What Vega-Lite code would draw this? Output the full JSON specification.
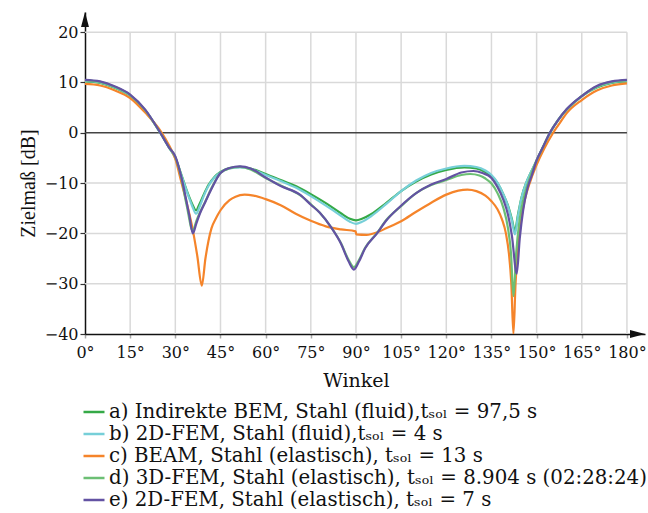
{
  "$schema": "https://vega.github.io/schema/vega-lite/v6.json",
  "width": 560,
  "height": 322,
  "autosize": "none",
  "padding": {"left": 85, "top": 12, "right": 3, "bottom": 179},
  "background": "white",
  "config": {"font": "DejaVu Serif", "view": {"stroke": null}},
  "datasets": {
    "gridx": [{"w": 15}, {"w": 30}, {"w": 45}, {"w": 60}, {"w": 75}, {"w": 90}, {"w": 105}, {"w": 120}, {"w": 135}, {"w": 150}, {"w": 165}, {"w": 180}],
    "gridy": [{"z": -30}, {"z": -20}, {"z": -10}, {"z": 10}, {"z": 20}],
    "arrows": [
      {"w": 0, "z": 24, "sh": "M0,0L-0.53,2L0.53,2Z"},
      {"w": 186, "z": -40, "sh": "M0,0L-2,-0.53L-2,0.53Z"}
    ],
    "curves": [
      {"s": "a", "w": 0, "z": 10.2}, {"s": "a", "w": 5, "z": 9.9}, {"s": "a", "w": 10, "z": 8.9}, {"s": "a", "w": 15, "z": 7.3}, {"s": "a", "w": 20, "z": 4.4}, {"s": "a", "w": 25, "z": 0}, {"s": "a", "w": 28, "z": -3}, {"s": "a", "w": 30, "z": -5}, {"s": "a", "w": 32, "z": -8.3}, {"s": "a", "w": 34, "z": -11.8}, {"s": "a", "w": 35.5, "z": -14}, {"s": "a", "w": 36.9, "z": -15.4}, {"s": "a", "w": 38, "z": -14.2}, {"s": "a", "w": 39.5, "z": -12.2}, {"s": "a", "w": 41, "z": -10.4}, {"s": "a", "w": 43, "z": -8.8}, {"s": "a", "w": 45, "z": -7.8}, {"s": "a", "w": 48, "z": -7}, {"s": "a", "w": 51.5, "z": -6.8}, {"s": "a", "w": 55, "z": -7.1}, {"s": "a", "w": 60, "z": -8.2}, {"s": "a", "w": 65, "z": -9.4}, {"s": "a", "w": 70, "z": -10.6}, {"s": "a", "w": 75, "z": -12.2}, {"s": "a", "w": 80, "z": -14}, {"s": "a", "w": 85, "z": -16}, {"s": "a", "w": 88, "z": -17.1}, {"s": "a", "w": 90, "z": -17.4}, {"s": "a", "w": 92, "z": -17.1}, {"s": "a", "w": 95, "z": -16.2}, {"s": "a", "w": 100, "z": -14}, {"s": "a", "w": 105, "z": -11.6}, {"s": "a", "w": 110, "z": -9.7}, {"s": "a", "w": 115, "z": -8.3}, {"s": "a", "w": 120, "z": -7.4}, {"s": "a", "w": 126, "z": -6.9}, {"s": "a", "w": 130, "z": -7.1}, {"s": "a", "w": 133, "z": -7.8}, {"s": "a", "w": 135, "z": -8.6}, {"s": "a", "w": 137, "z": -10}, {"s": "a", "w": 139, "z": -12.3}, {"s": "a", "w": 140.5, "z": -14.5}, {"s": "a", "w": 141.8, "z": -17.2}, {"s": "a", "w": 142.8, "z": -19.5}, {"s": "a", "w": 143.8, "z": -16.3}, {"s": "a", "w": 145, "z": -12.8}, {"s": "a", "w": 146.5, "z": -10}, {"s": "a", "w": 148, "z": -8}, {"s": "a", "w": 150, "z": -5.5}, {"s": "a", "w": 152, "z": -3}, {"s": "a", "w": 154.5, "z": 0}, {"s": "a", "w": 157, "z": 2.4}, {"s": "a", "w": 160, "z": 4.6}, {"s": "a", "w": 165, "z": 7.3}, {"s": "a", "w": 170, "z": 9}, {"s": "a", "w": 175, "z": 9.9}, {"s": "a", "w": 180, "z": 10.2},

      {"s": "b", "w": 0, "z": 10.3}, {"s": "b", "w": 5, "z": 10}, {"s": "b", "w": 10, "z": 9}, {"s": "b", "w": 15, "z": 7.4}, {"s": "b", "w": 20, "z": 4.5}, {"s": "b", "w": 25, "z": 0}, {"s": "b", "w": 28, "z": -3}, {"s": "b", "w": 30, "z": -5}, {"s": "b", "w": 32, "z": -8.4}, {"s": "b", "w": 34, "z": -12}, {"s": "b", "w": 35.5, "z": -14.4}, {"s": "b", "w": 36.9, "z": -16.1}, {"s": "b", "w": 38, "z": -14.8}, {"s": "b", "w": 39.5, "z": -12.5}, {"s": "b", "w": 41, "z": -10.6}, {"s": "b", "w": 43, "z": -8.9}, {"s": "b", "w": 45, "z": -7.9}, {"s": "b", "w": 48, "z": -7.1}, {"s": "b", "w": 51.5, "z": -6.9}, {"s": "b", "w": 55, "z": -7.2}, {"s": "b", "w": 60, "z": -8.4}, {"s": "b", "w": 65, "z": -9.6}, {"s": "b", "w": 70, "z": -10.9}, {"s": "b", "w": 75, "z": -12.6}, {"s": "b", "w": 80, "z": -14.5}, {"s": "b", "w": 85, "z": -16.5}, {"s": "b", "w": 88, "z": -17.7}, {"s": "b", "w": 90, "z": -18.1}, {"s": "b", "w": 92, "z": -17.7}, {"s": "b", "w": 95, "z": -16.6}, {"s": "b", "w": 100, "z": -14.2}, {"s": "b", "w": 105, "z": -11.6}, {"s": "b", "w": 110, "z": -9.5}, {"s": "b", "w": 115, "z": -8}, {"s": "b", "w": 120, "z": -7.1}, {"s": "b", "w": 126, "z": -6.6}, {"s": "b", "w": 130, "z": -6.8}, {"s": "b", "w": 133, "z": -7.5}, {"s": "b", "w": 135, "z": -8.4}, {"s": "b", "w": 137, "z": -9.9}, {"s": "b", "w": 139, "z": -12.3}, {"s": "b", "w": 140.5, "z": -14.6}, {"s": "b", "w": 141.8, "z": -17.5}, {"s": "b", "w": 142.8, "z": -20.2}, {"s": "b", "w": 143.8, "z": -16.6}, {"s": "b", "w": 145, "z": -12.9}, {"s": "b", "w": 146.5, "z": -10}, {"s": "b", "w": 148, "z": -8}, {"s": "b", "w": 150, "z": -5.5}, {"s": "b", "w": 152, "z": -3}, {"s": "b", "w": 154.5, "z": 0}, {"s": "b", "w": 157, "z": 2.4}, {"s": "b", "w": 160, "z": 4.6}, {"s": "b", "w": 165, "z": 7.3}, {"s": "b", "w": 170, "z": 9.1}, {"s": "b", "w": 175, "z": 10}, {"s": "b", "w": 180, "z": 10.3},

      {"s": "c", "w": 0, "z": 9.7}, {"s": "c", "w": 5, "z": 9.4}, {"s": "c", "w": 10, "z": 8.4}, {"s": "c", "w": 15, "z": 6.9}, {"s": "c", "w": 20, "z": 4}, {"s": "c", "w": 25.5, "z": 0}, {"s": "c", "w": 28, "z": -2.6}, {"s": "c", "w": 30, "z": -5.2}, {"s": "c", "w": 32, "z": -9.8}, {"s": "c", "w": 34, "z": -14.5}, {"s": "c", "w": 35.8, "z": -19.3}, {"s": "c", "w": 37.3, "z": -24.5}, {"s": "c", "w": 38.8, "z": -30.4}, {"s": "c", "w": 40, "z": -25}, {"s": "c", "w": 41, "z": -21.5}, {"s": "c", "w": 42, "z": -19}, {"s": "c", "w": 43.5, "z": -17}, {"s": "c", "w": 45, "z": -15.4}, {"s": "c", "w": 48, "z": -13.4}, {"s": "c", "w": 50, "z": -12.7}, {"s": "c", "w": 53, "z": -12.3}, {"s": "c", "w": 56, "z": -12.5}, {"s": "c", "w": 60, "z": -13.2}, {"s": "c", "w": 65, "z": -14.4}, {"s": "c", "w": 70, "z": -16.1}, {"s": "c", "w": 75, "z": -17.5}, {"s": "c", "w": 80, "z": -18.6}, {"s": "c", "w": 85, "z": -19.2}, {"s": "c", "w": 89.9, "z": -19.6}, {"s": "c", "w": 90.1, "z": -20.2}, {"s": "c", "w": 93.5, "z": -20.3}, {"s": "c", "w": 97, "z": -19.8}, {"s": "c", "w": 100, "z": -19}, {"s": "c", "w": 105, "z": -17.6}, {"s": "c", "w": 110, "z": -15.7}, {"s": "c", "w": 115, "z": -13.9}, {"s": "c", "w": 120, "z": -12.3}, {"s": "c", "w": 124, "z": -11.5}, {"s": "c", "w": 127, "z": -11.3}, {"s": "c", "w": 130, "z": -11.6}, {"s": "c", "w": 133, "z": -12.5}, {"s": "c", "w": 135, "z": -13.6}, {"s": "c", "w": 137, "z": -15.2}, {"s": "c", "w": 138.5, "z": -17.2}, {"s": "c", "w": 139.8, "z": -20}, {"s": "c", "w": 140.8, "z": -24}, {"s": "c", "w": 141.6, "z": -30}, {"s": "c", "w": 142.3, "z": -40}, {"s": "c", "w": 143, "z": -30}, {"s": "c", "w": 143.8, "z": -23}, {"s": "c", "w": 144.8, "z": -17.5}, {"s": "c", "w": 146, "z": -13.5}, {"s": "c", "w": 148, "z": -9.5}, {"s": "c", "w": 150, "z": -6.4}, {"s": "c", "w": 152.5, "z": -3.2}, {"s": "c", "w": 155.5, "z": 0}, {"s": "c", "w": 158, "z": 2.2}, {"s": "c", "w": 160, "z": 3.9}, {"s": "c", "w": 165, "z": 6.5}, {"s": "c", "w": 170, "z": 8.4}, {"s": "c", "w": 175, "z": 9.4}, {"s": "c", "w": 180, "z": 9.8},

      {"s": "d", "w": 0, "z": 10.4}, {"s": "d", "w": 5, "z": 10.1}, {"s": "d", "w": 10, "z": 9.1}, {"s": "d", "w": 15, "z": 7.5}, {"s": "d", "w": 20, "z": 4.5}, {"s": "d", "w": 25, "z": 0}, {"s": "d", "w": 28, "z": -3}, {"s": "d", "w": 30, "z": -4.8}, {"s": "d", "w": 32, "z": -9}, {"s": "d", "w": 33.8, "z": -14.5}, {"s": "d", "w": 35.8, "z": -19.5}, {"s": "d", "w": 37, "z": -17.5}, {"s": "d", "w": 38.2, "z": -15.8}, {"s": "d", "w": 40, "z": -13.6}, {"s": "d", "w": 42, "z": -11}, {"s": "d", "w": 45, "z": -8}, {"s": "d", "w": 48, "z": -7.1}, {"s": "d", "w": 51.5, "z": -6.8}, {"s": "d", "w": 55, "z": -7.3}, {"s": "d", "w": 60, "z": -9}, {"s": "d", "w": 65, "z": -10.5}, {"s": "d", "w": 71.4, "z": -12.4}, {"s": "d", "w": 75, "z": -14.2}, {"s": "d", "w": 78, "z": -15.9}, {"s": "d", "w": 82, "z": -19}, {"s": "d", "w": 85, "z": -21.9}, {"s": "d", "w": 87.5, "z": -25.2}, {"s": "d", "w": 89.3, "z": -26.7}, {"s": "d", "w": 91, "z": -25.3}, {"s": "d", "w": 93, "z": -22.9}, {"s": "d", "w": 97, "z": -19.9}, {"s": "d", "w": 100, "z": -17.4}, {"s": "d", "w": 105, "z": -14.6}, {"s": "d", "w": 110, "z": -12}, {"s": "d", "w": 115, "z": -10.4}, {"s": "d", "w": 120, "z": -9.4}, {"s": "d", "w": 125, "z": -8.4}, {"s": "d", "w": 128, "z": -8.2}, {"s": "d", "w": 131, "z": -8.5}, {"s": "d", "w": 133, "z": -9.1}, {"s": "d", "w": 135, "z": -10.1}, {"s": "d", "w": 137, "z": -12}, {"s": "d", "w": 139, "z": -15}, {"s": "d", "w": 140.5, "z": -19}, {"s": "d", "w": 141.5, "z": -24}, {"s": "d", "w": 142.3, "z": -32.5}, {"s": "d", "w": 143.2, "z": -24}, {"s": "d", "w": 144.3, "z": -17.5}, {"s": "d", "w": 145.5, "z": -13.5}, {"s": "d", "w": 147, "z": -10.3}, {"s": "d", "w": 150, "z": -5.5}, {"s": "d", "w": 152, "z": -3}, {"s": "d", "w": 154.4, "z": 0}, {"s": "d", "w": 157, "z": 2.4}, {"s": "d", "w": 160, "z": 4.6}, {"s": "d", "w": 165, "z": 7.3}, {"s": "d", "w": 170, "z": 9.2}, {"s": "d", "w": 175, "z": 10.1}, {"s": "d", "w": 180, "z": 10.4},

      {"s": "e", "w": 0, "z": 10.5}, {"s": "e", "w": 5, "z": 10.2}, {"s": "e", "w": 10, "z": 9.2}, {"s": "e", "w": 15, "z": 7.6}, {"s": "e", "w": 20, "z": 4.6}, {"s": "e", "w": 25, "z": 0}, {"s": "e", "w": 28, "z": -3}, {"s": "e", "w": 30, "z": -4.7}, {"s": "e", "w": 32, "z": -8.8}, {"s": "e", "w": 33.5, "z": -13}, {"s": "e", "w": 34.7, "z": -16.6}, {"s": "e", "w": 35.8, "z": -20}, {"s": "e", "w": 37, "z": -18}, {"s": "e", "w": 38.2, "z": -16}, {"s": "e", "w": 40, "z": -13.7}, {"s": "e", "w": 42, "z": -11.2}, {"s": "e", "w": 45, "z": -8}, {"s": "e", "w": 48, "z": -7}, {"s": "e", "w": 51.5, "z": -6.7}, {"s": "e", "w": 55, "z": -7.1}, {"s": "e", "w": 60, "z": -8.9}, {"s": "e", "w": 65, "z": -10.6}, {"s": "e", "w": 71.4, "z": -12.3}, {"s": "e", "w": 75, "z": -14.3}, {"s": "e", "w": 78, "z": -15.9}, {"s": "e", "w": 82, "z": -19}, {"s": "e", "w": 85, "z": -22}, {"s": "e", "w": 87.5, "z": -25.5}, {"s": "e", "w": 89.3, "z": -27.2}, {"s": "e", "w": 91, "z": -25.6}, {"s": "e", "w": 93, "z": -23}, {"s": "e", "w": 97, "z": -20}, {"s": "e", "w": 100, "z": -17.5}, {"s": "e", "w": 104.6, "z": -14.7}, {"s": "e", "w": 110, "z": -12}, {"s": "e", "w": 115, "z": -10.3}, {"s": "e", "w": 120, "z": -9.2}, {"s": "e", "w": 125, "z": -7.9}, {"s": "e", "w": 129, "z": -7.6}, {"s": "e", "w": 132, "z": -8}, {"s": "e", "w": 135, "z": -9}, {"s": "e", "w": 137, "z": -10.8}, {"s": "e", "w": 139, "z": -13.4}, {"s": "e", "w": 140.5, "z": -16.3}, {"s": "e", "w": 141.8, "z": -20.5}, {"s": "e", "w": 143.4, "z": -28}, {"s": "e", "w": 144.4, "z": -21}, {"s": "e", "w": 145.5, "z": -15.5}, {"s": "e", "w": 147, "z": -11}, {"s": "e", "w": 148.5, "z": -8.3}, {"s": "e", "w": 150, "z": -5.5}, {"s": "e", "w": 152, "z": -3}, {"s": "e", "w": 154.4, "z": 0}, {"s": "e", "w": 157, "z": 2.4}, {"s": "e", "w": 160, "z": 4.7}, {"s": "e", "w": 165, "z": 7.3}, {"s": "e", "w": 170, "z": 9.3}, {"s": "e", "w": 175, "z": 10.2}, {"s": "e", "w": 180, "z": 10.5}
    ]
  },
  "layer": [
    {
      "data": {"name": "gridx"},
      "mark": {"type": "rule", "color": "#d9d9d9", "strokeWidth": 1.5},
      "encoding": {
        "x": {"field": "w", "type": "quantitative", "scale": {"domain": [0, 186], "nice": false, "zero": false}},
        "y": {"datum": -40, "type": "quantitative"},
        "y2": {"datum": 20}
      }
    },
    {
      "data": {"name": "gridy"},
      "mark": {"type": "rule", "color": "#d9d9d9", "strokeWidth": 1.5},
      "encoding": {
        "y": {"field": "z", "type": "quantitative"},
        "x": {"datum": 0, "type": "quantitative"},
        "x2": {"datum": 180}
      }
    },
    {
      "data": {"values": [{"z": 0}]},
      "mark": {"type": "rule", "color": "#444444", "strokeWidth": 1.3},
      "encoding": {
        "y": {"field": "z", "type": "quantitative"},
        "x": {"datum": 0, "type": "quantitative"},
        "x2": {"datum": 180}
      }
    },
    {
      "data": {"name": "curves"},
      "mark": {"type": "line", "strokeWidth": 2.2, "interpolate": "monotone", "clip": true},
      "encoding": {
        "x": {
          "field": "w", "type": "quantitative",
          "scale": {"domain": [0, 186], "nice": false, "zero": false},
          "axis": {
            "title": "Winkel", "values": [0, 15, 30, 45, 60, 75, 90, 105, 120, 135, 150, 165, 180],
            "labelExpr": "datum.value + '°'", "grid": false,
            "domainColor": "#111111", "domainWidth": 1.5,
            "tickColor": "#aaaaaa", "tickSize": 4, "tickWidth": 1.5,
            "labelFont": "DejaVu Serif", "labelFontSize": 16, "labelColor": "#111111", "labelPadding": 6,
            "labelFlush": false, "labelOverlap": false,
            "titleFont": "DejaVu Serif", "titleFontSize": 19, "titleFontWeight": "normal", "titleColor": "#111111",
            "titleX": 271, "titleY": 37, "titleBaseline": "top"
          }
        },
        "y": {
          "field": "z", "type": "quantitative",
          "scale": {"domain": [-40, 24], "nice": false, "zero": false},
          "axis": {
            "title": "Zielmaß [dB]", "values": [-40, -30, -20, -10, 0, 10, 20], "grid": false,
            "domainColor": "#111111", "domainWidth": 1.5,
            "tickColor": "#333333", "tickSize": 5, "tickWidth": 1.2,
            "labelFont": "DejaVu Serif", "labelFontSize": 16, "labelColor": "#111111", "labelPadding": 2,
            "labelFlush": false, "labelOverlap": false,
            "titleFont": "Liberation Serif", "titleFontSize": 20, "titleFontWeight": "normal", "titleColor": "#111111",
            "titleX": -57, "titleY": 171, "titleAngle": -90, "titleAlign": "center", "titleBaseline": "middle"
          }
        },
        "color": {
          "field": "s", "type": "nominal",
          "scale": {"domain": ["a", "b", "c", "d", "e"], "range": ["#35a947", "#76cfd8", "#f5842a", "#6cbf74", "#6352a3"]},
          "legend": {
            "orient": "none", "legendX": -3, "legendY": 388, "title": null,
            "symbolType": "stroke", "symbolSize": 441, "symbolStrokeWidth": 2.5,
            "labelFont": "DejaVu Serif",
            "labelFontSize": 19.8, "labelColor": "#111111", "labelLimit": 0,
            "labelOffset": 3, "rowPadding": 0,
            "labelExpr": "{'a': 'a) Indirekte BEM, Stahl (fluid),tₛₒₗ = 97,5 s', 'b': 'b) 2D-FEM, Stahl (fluid),tₛₒₗ = 4 s', 'c': 'c) BEAM, Stahl (elastisch), tₛₒₗ = 13 s', 'd': 'd) 3D-FEM, Stahl (elastisch), tₛₒₗ = 8.904 s (02:28:24)', 'e': 'e) 2D-FEM, Stahl (elastisch), tₛₒₗ = 7 s'}[datum.label]"
          }
        }
      }
    },
    {
      "data": {"name": "arrows"},
      "mark": {"type": "point", "filled": true, "color": "#111111", "opacity": 1, "size": 225},
      "encoding": {
        "x": {"field": "w", "type": "quantitative"},
        "y": {"field": "z", "type": "quantitative"},
        "shape": {"field": "sh", "type": "nominal", "scale": null, "legend": null}
      }
    }
  ]
}
